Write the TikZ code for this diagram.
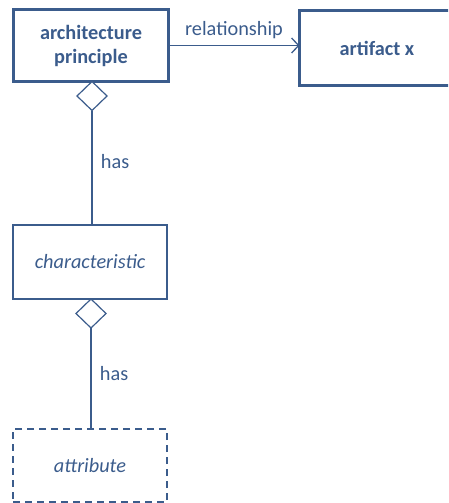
\documentclass[tikz,border=0pt]{standalone}
\usepackage{fontspec}
\setmainfont{Carlito}
\usetikzlibrary{positioning}
\usetikzlibrary{shapes.geometric}
\usetikzlibrary{arrows.meta}
\definecolor{umlblue}{RGB}{59,92,140}

\begin{document}
\begin{tikzpicture}[x=1pt, y=-1pt,
    font=\fontsize{20.3}{24}\selectfont, text=umlblue,
    box/.style={draw=umlblue, rectangle, align=center, outer sep=0pt,
      minimum width=155pt, minimum height=72pt},
    mainbox/.style={box, line width=3pt, font=\fontsize{20.3}{24}\selectfont\bfseries},
    partbox/.style={box, line width=1.8pt, minimum width=154pt, minimum height=74pt,
      font=\fontsize{20.3}{24}\selectfont\itshape},
    agg/.style={draw=umlblue, diamond, fill=white, line width=1.2pt,
      minimum width=30pt, minimum height=29pt, inner sep=0pt, outer sep=0pt},
    link/.style={draw=umlblue, line width=1.3pt}]
  \useasboundingbox (0,0) rectangle (448,503);
  \clip (0,0) rectangle (448,503);

  \node[mainbox] (principle) at (91,45.5) {architecture\\principle};
  \node[mainbox, minimum height=75pt] (artifact) at (377,48) {artifact x};
  \node[partbox] (characteristic) at (90,262) {characteristic};
  \node[partbox, dash pattern=on 7pt off 5pt, minimum height=73pt] (attribute) at (90,465.5) {attribute};

  \node[agg, below=0pt of principle.south, xshift=1pt] (has1) {};
  \node[agg, below=0pt of characteristic.south, xshift=1pt] (has2) {};

  \draw[link, -{Straight Barb[length=7pt, width=15pt]}] (principle.east)
    -- node[above=3pt] {relationship} (principle.east -| artifact.west);
  \draw[link] (has1.south) -- node[pos=0.45, right=5pt] {has} (has1.south |- characteristic.north);
  \draw[link] (has2.south) -- node[pos=0.45, right=5pt] {has} (has2.south |- attribute.north);
\end{tikzpicture}
\end{document}
